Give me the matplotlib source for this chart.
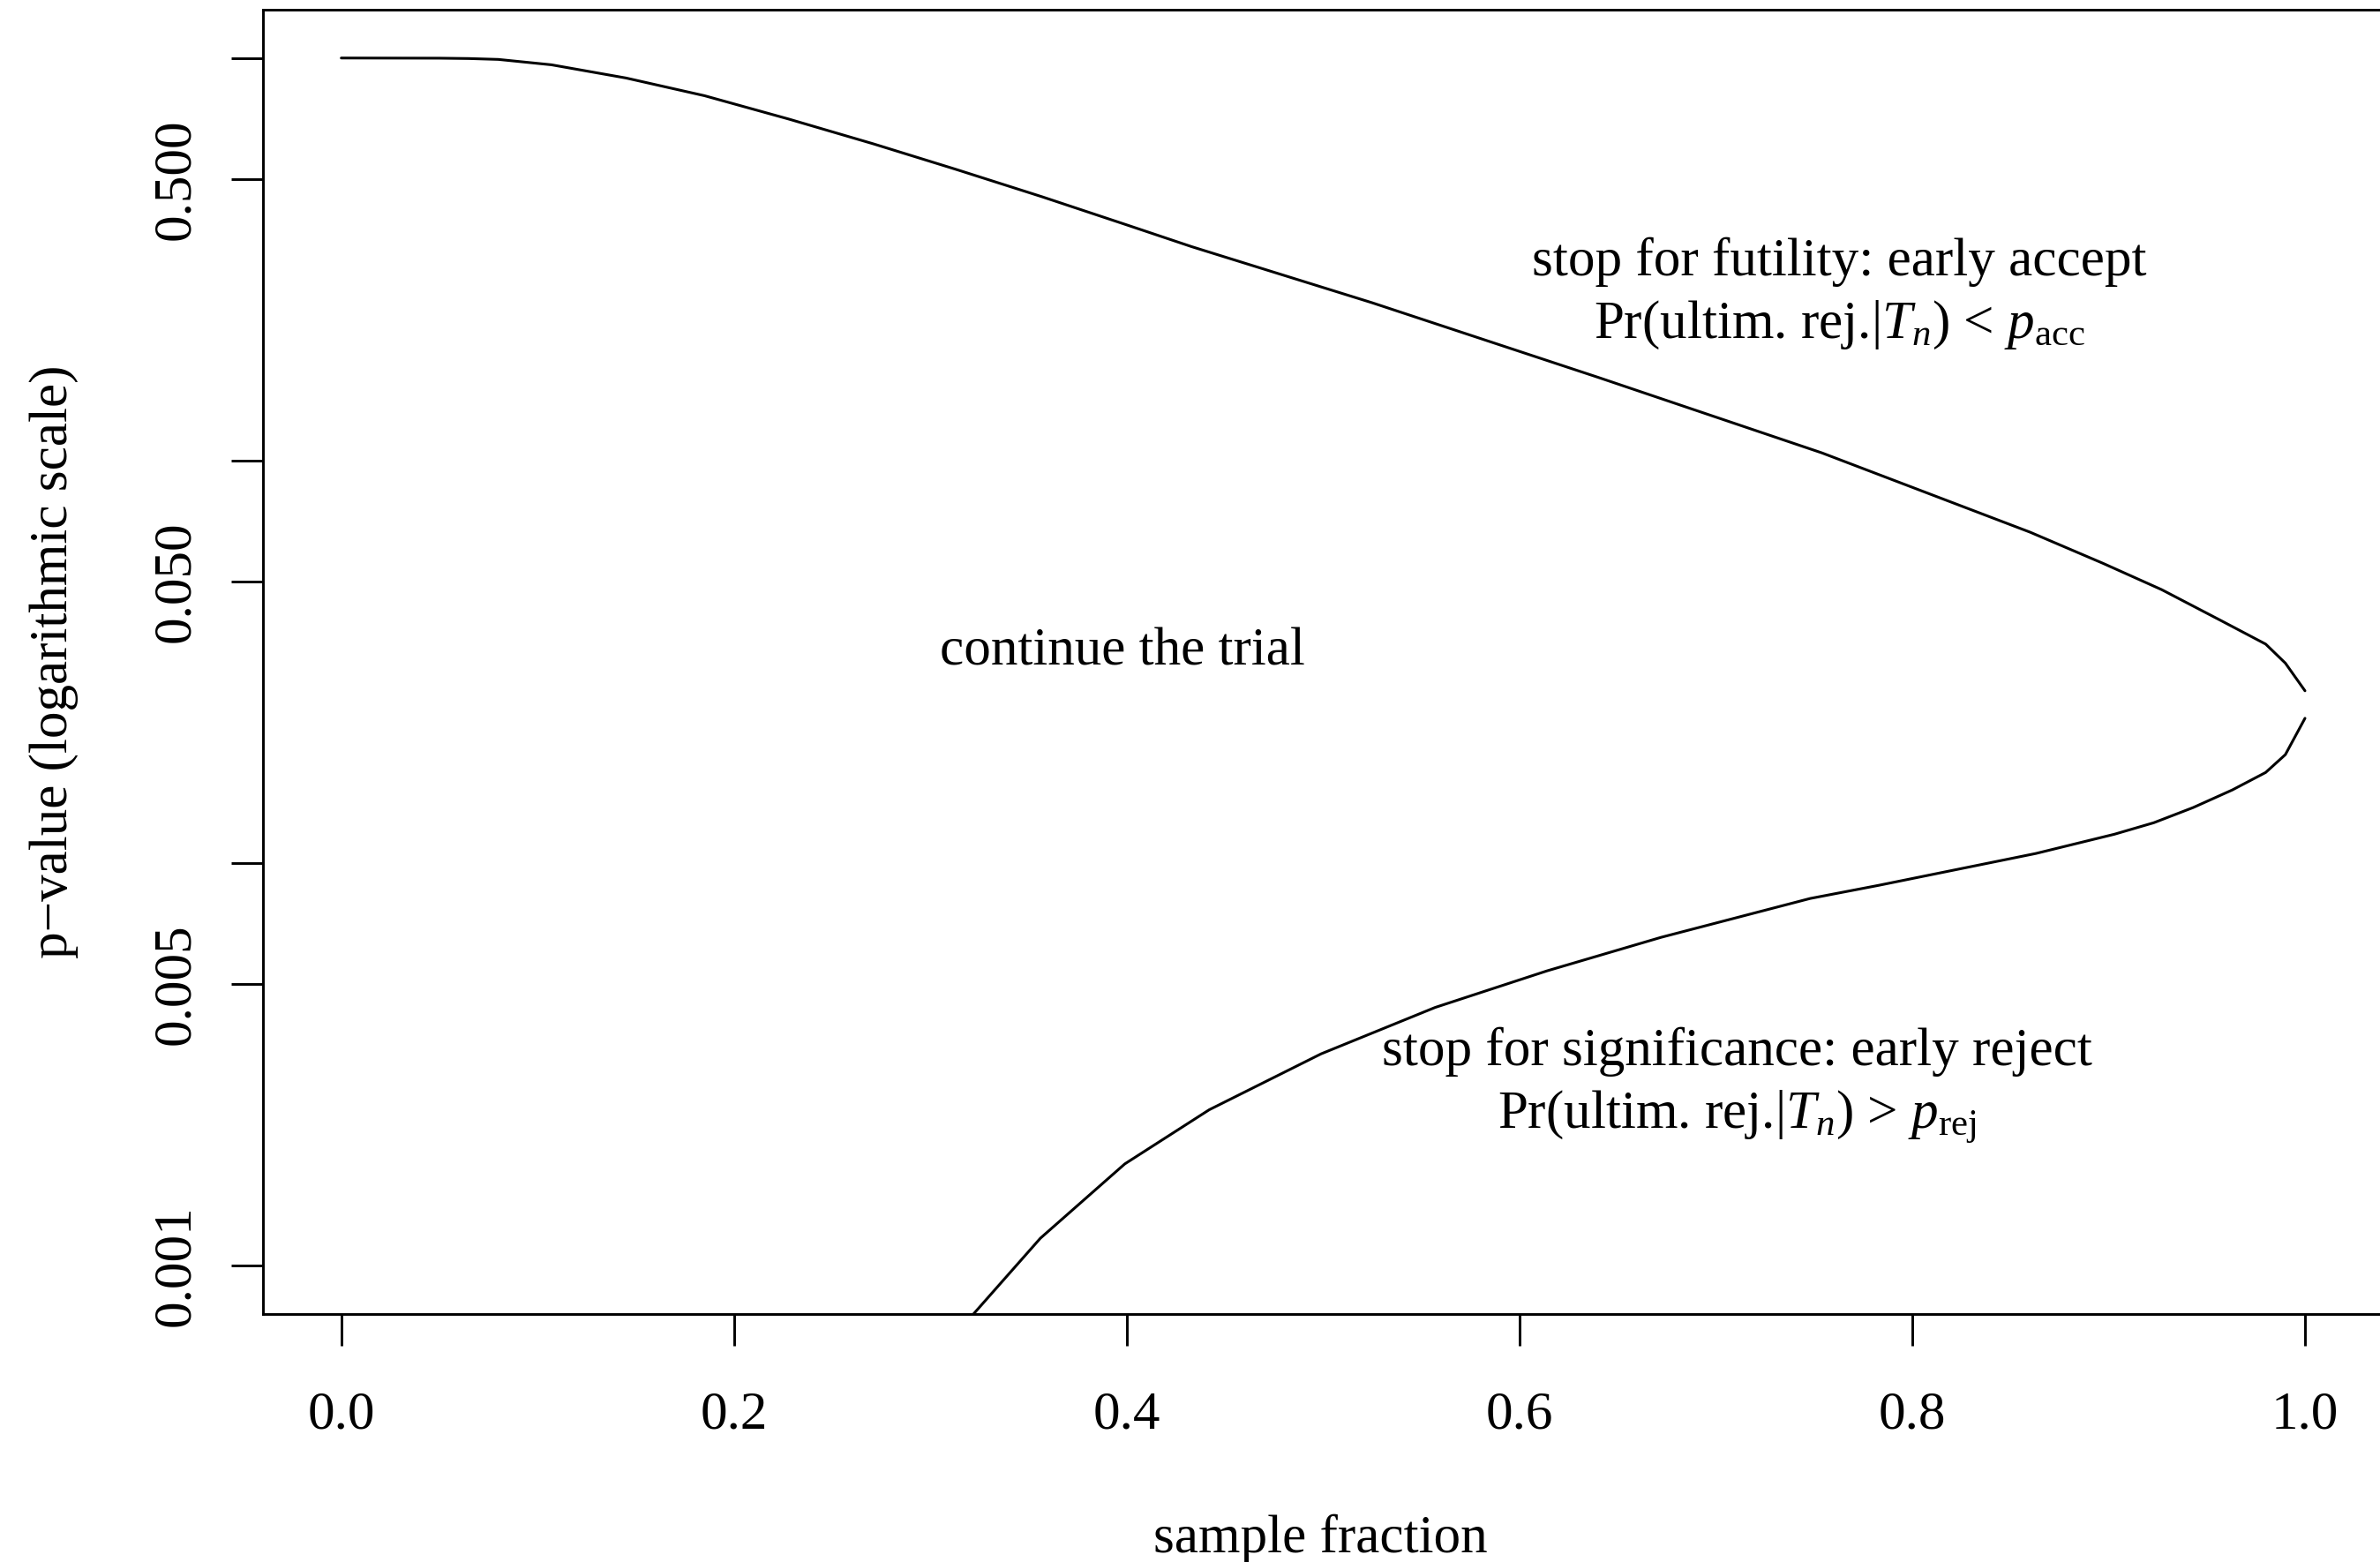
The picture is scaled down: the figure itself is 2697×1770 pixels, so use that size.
import numpy as np
import matplotlib
matplotlib.use("Agg")
import matplotlib.pyplot as plt
from matplotlib.ticker import NullLocator, FixedLocator

plt.rcParams['font.family'] = ['Liberation Serif', 'DejaVu Serif']
plt.rcParams['mathtext.fontset'] = 'custom'
plt.rcParams['mathtext.rm'] = 'Liberation Serif'
plt.rcParams['mathtext.it'] = 'Liberation Serif:italic'

# boundary curves (sample fraction vs p-value)
upper_x = [0.00, 0.05, 0.065, 0.08, 0.107, 0.145, 0.185, 0.228, 0.271, 0.313,
           0.357, 0.40, 0.433, 0.525, 0.64, 0.754, 0.86, 0.897, 0.927, 0.957,
           0.98, 0.99, 1.00]
upper_p = [1.0, 0.999, 0.997, 0.992, 0.962, 0.892, 0.806, 0.705, 0.612, 0.529,
           0.452, 0.385, 0.340, 0.2466, 0.161, 0.1045, 0.0664, 0.0556, 0.0478, 0.0401,
           0.0350, 0.0314, 0.0268]

lower_x = [0.32, 0.356, 0.399, 0.442, 0.499, 0.557, 0.614, 0.672, 0.748, 0.783,
           0.823, 0.863, 0.903, 0.923, 0.943, 0.963, 0.98, 0.99, 1.00]
lower_p = [0.00074, 0.00117, 0.00179, 0.00244, 0.00336, 0.00438, 0.00540, 0.00654,
           0.00817, 0.00881, 0.00965, 0.01057, 0.0118, 0.0126, 0.01374, 0.0152,
           0.0168, 0.0186, 0.0229]

x_ticks = [0.0, 0.2, 0.4, 0.6, 0.8, 1.0]
x_labels = ['0.0', '0.2', '0.4', '0.6', '0.8', '1.0']
y_ticks = [1.0, 0.5, 0.1, 0.05, 0.01, 0.005, 0.001]
y_labels = ['', '0.500', '', '0.050', '', '0.005', '0.001']

W, H = 2697, 1770
fig = plt.figure(figsize=(W / 100, H / 100), dpi=100)
# plot box in pixels: left 297.7, right 2701 (past the edge), top 11, bottom 1489
ax = fig.add_axes([297.7 / W, (H - 1489) / H, (2701 - 297.7) / W, (1489 - 11) / H])

ax.plot(upper_x, upper_p, color='black', lw=2.2, solid_capstyle='round',
        solid_joinstyle='round')
ax.plot(lower_x, lower_p, color='black', lw=2.2, solid_capstyle='round',
        solid_joinstyle='round')

ax.set_yscale('log')
ax.set_xlim(-0.04, 1.04)
ax.set_ylim(10 ** -3.12, 10 ** 0.12)

ax.xaxis.set_major_locator(FixedLocator(x_ticks))
ax.set_xticklabels(x_labels)
ax.yaxis.set_major_locator(FixedLocator(y_ticks))
ax.yaxis.set_minor_locator(NullLocator())
ax.set_yticklabels(y_labels)

fs = 44
ax.tick_params(axis='both', direction='out', length=26, width=2.1,
               labelsize=fs, color='black')
ax.tick_params(axis='x', pad=36.5)
ax.tick_params(axis='y', pad=25)
plt.setp(ax.get_yticklabels(), rotation=90, va='center')

for s in ax.spines.values():
    s.set_linewidth(2.1)

ax.set_xlabel('sample fraction', fontsize=fs)
ax.xaxis.set_label_coords(0.4986, -0.153)
ax.set_ylabel('p\u2212value (logarithmic scale)', fontsize=fs)
ax.yaxis.set_label_coords(-0.0867, 0.5)

ax.text(0.7629, 0.2884, 'stop for futility: early accept',
        ha='center', va='baseline', fontsize=fs)
ax.text(0.7629, 0.2015, r'Pr(ultim. rej.$|T_n$) < $p_{\mathrm{acc}}$',
        ha='center', va='baseline', fontsize=fs)
ax.text(0.398, 0.03113, 'continue the trial',
        ha='center', va='baseline', fontsize=fs)
ax.text(0.7106, 0.003146, 'stop for significance: early reject',
        ha='center', va='baseline', fontsize=fs)
ax.text(0.7106, 0.002197, r'Pr(ultim. rej.$|T_n$) > $p_{\mathrm{rej}}$',
        ha='center', va='baseline', fontsize=fs)

fig.savefig('out.png', dpi=100)
